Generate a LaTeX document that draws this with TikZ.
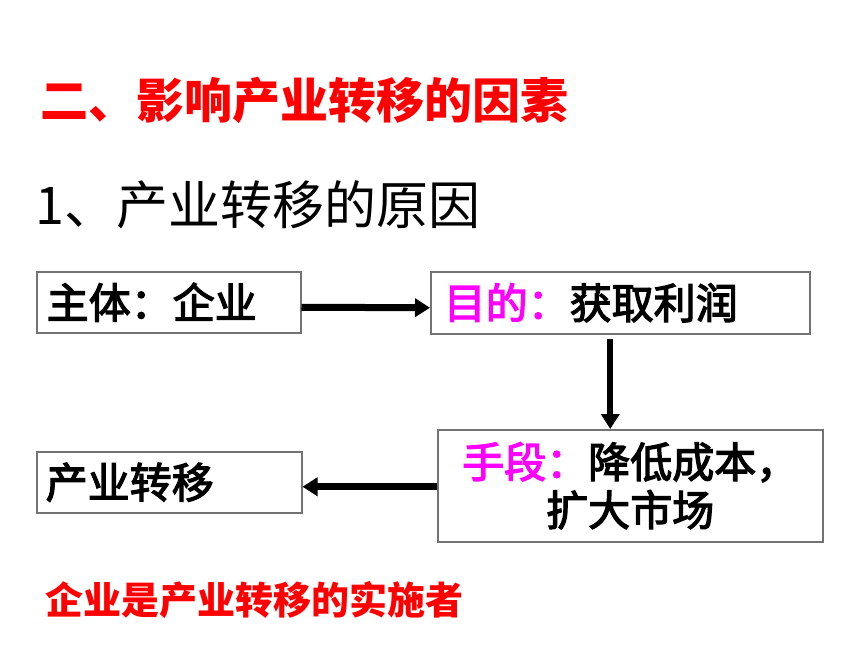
\documentclass[tikz,border=0pt]{standalone}
\usepackage{fontspec}
\setmainfont{Noto Sans CJK SC}
\newfontfamily\medfont{Noto Sans CJK SC}[FakeBold=3]
\usetikzlibrary{arrows.meta}
\definecolor{tred}{RGB}{255,0,0}
\definecolor{tmag}{RGB}{255,0,255}
\begin{document}
\begin{tikzpicture}[x=1pt,y=-1pt,
  box/.style={draw=black!55,line width=1.5pt,rectangle,inner ysep=0pt,anchor=north west,font=\fontsize{42}{48}\selectfont\medfont},
  arr/.style={line width=7pt,-{Triangle[length=15pt,width=18pt]}},
  title/.style={anchor=west,inner sep=0pt}
]
\useasboundingbox (0,0) rectangle (860,645);
\fill[white] (0,0) rectangle (860,645);
\node[title,text=tred,font=\fontsize{48}{48}\selectfont\bfseries] (t1) at (40,100) {二、影响产业转移的因素};
\node[title,font=\fontsize{52}{52}\selectfont] (t2) at (35,205) {1、产业转移的原因};
\node[box,inner xsep=10pt,text width=244pt,minimum height=61pt,align=left] (b1) at (36,271) {主体：企业};
\node[box,inner xsep=13pt,text width=353pt,minimum height=62pt,align=left] (b2) at (430,271) {{\color{tmag}目的：}获取利润};
\node[box,inner xsep=9pt,text width=367pt,minimum height=112pt,align=center] (b3) at (437,429) {{\color{tmag}手段：}降低成本，\\扩大市场};
\node[box,inner xsep=9pt,text width=247pt,minimum height=61pt,align=left] (b4) at (36,451) {产业转移};
\node[title,text=tred,font=\fontsize{38}{38}\selectfont\bfseries] (t3) at (45,600) {企业是产业转移的实施者};
\draw[arr] ([yshift=-5pt]b1.east) -- ([yshift=-5pt]b2.west);
\draw[arr,line width=6pt] ([xshift=-10pt,yshift=-4pt]b2.south) -- ([xshift=-10pt]b2.south |- b3.north);
\draw[arr] ([yshift=-1pt]b3.west) -- ([yshift=-1pt]b4.east |- b3.west);
\end{tikzpicture}
\end{document}
